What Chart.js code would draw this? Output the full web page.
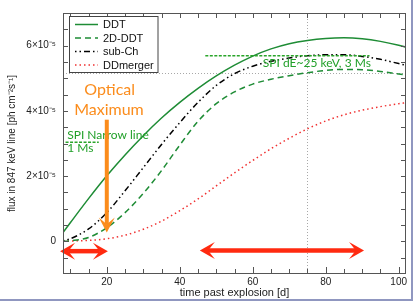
<!DOCTYPE html>
<html><head><meta charset="utf-8">
<script src="https://cdn.jsdelivr.net/npm/chart.js@4/dist/chart.umd.min.js"></script>
<style>
html,body{margin:0;padding:0;background:#fff;}
#wrap{position:relative;width:415px;height:303px;overflow:hidden;}
#frame{position:absolute;left:0;top:0;width:411px;height:299px;border-right:2px solid #9097c0;border-bottom:2px solid #9097c0;pointer-events:none;}
canvas{display:block;}
</style></head><body>
<div id="wrap"><canvas id="c" width="415" height="303"></canvas><div id="frame"></div></div>
<script>
// ---- data (flux in units of 1e-5 ph cm^-2 s^-1) ----
const days = [8,10,15,20,25,30,35,40,45,50,55,60,65,70,75,80,85,90,95,100,102];
const fluxDDT      = [0.27,0.57,1.31,2.01,2.65,3.24,3.78,4.26,4.69,5.07,5.4,5.68,5.9,6.06,6.16,6.22,6.24,6.21,6.13,6.01,5.95];
const flux2DDDT    = [0.0,0.02,0.12,0.42,0.88,1.47,2.17,2.95,3.68,4.22,4.58,4.82,4.97,5.08,5.17,5.24,5.27,5.26,5.21,5.13,5.1];
const fluxSubCh    = [0.02,0.08,0.38,0.88,1.55,2.26,2.97,3.64,4.26,4.78,5.14,5.37,5.52,5.62,5.69,5.72,5.72,5.67,5.58,5.45,5.4];
const fluxDDmerger = [0.0,0.01,0.03,0.08,0.19,0.37,0.62,0.94,1.3,1.7,2.1,2.48,2.84,3.16,3.45,3.69,3.88,4.02,4.13,4.22,4.25];
const seriesNames = ['DDT','2D-DDT','sub-Ch','DDmerger'];

const xRange = [8,102];
const yRange = [-1,7];
const xMajorTicks = [20,40,60,80,100];
const xTickLabels = ['20','40','60','80','100'];
const xMinorTicks = [10,15,20,25,30,35,40,45,50,55,60,65,70,75,80,85,90,95,100];
const yMajorTicks = [0,2,4,6];
const yTickLabels = ['0','2×10⁻⁵','4×10⁻⁵','6×10⁻⁵'];
const yMinorTicks = [-0.5,0,0.5,1,1.5,2,2.5,3,3.5,4,4.5,5,5.5,6,6.5];

// annotation values (data coordinates)
const refDay = 75, refFlux = 5.17;
const spiNarrow = [8.7, 17.8, 3.04];
const spiWide = [47, 92, 5.69];
const optArrow = [20, 3.73, 0.27];
const arrowLeft = [7.2, 20.3, -0.3];
const arrowRight = [45.5, 90.5, -0.28];

const GREEN = '#1e8c35', TEXTGREEN = '#22a02a', ORANGE = '#fb8c1c', RED = '#ff2a10';

function head(ctx, tx, ty, dx, dy, len, half){
  const nx = -dy, ny = dx;
  ctx.beginPath();
  ctx.moveTo(tx, ty);
  ctx.lineTo(tx - dx*len + nx*half, ty - dy*len + ny*half);
  ctx.lineTo(tx - dx*len*0.55, ty - dy*len*0.55);
  ctx.lineTo(tx - dx*len - nx*half, ty - dy*len - ny*half);
  ctx.closePath(); ctx.fill();
}

const annot = {
  id: 'annot',
  beforeDatasetsDraw(chart){
    const {ctx, chartArea:a, scales:{x,y}} = chart;
    ctx.save();
    ctx.strokeStyle = '#a8a8a8'; ctx.lineWidth = 1; ctx.setLineDash([1,2]);
    const py = Math.round(y.getPixelForValue(refFlux)) + 0.5;
    ctx.beginPath(); ctx.moveTo(a.left, py); ctx.lineTo(a.right, py); ctx.stroke();
    const px = Math.round(x.getPixelForValue(refDay)) + 0.5;
    ctx.beginPath(); ctx.moveTo(px, a.top); ctx.lineTo(px, a.bottom); ctx.stroke();
    ctx.restore();
  },
  afterDatasetsDraw(chart){
    const {ctx, chartArea:a, scales:{x,y}} = chart;
    ctx.save();
    ctx.strokeStyle = '#2aa52a'; ctx.lineWidth = 1.5; ctx.setLineDash([3,1.5]);
    for (const s of [spiNarrow, spiWide]) {
      const yy = y.getPixelForValue(s[2]);
      ctx.beginPath(); ctx.moveTo(x.getPixelForValue(s[0]), yy); ctx.lineTo(x.getPixelForValue(s[1]), yy); ctx.stroke();
    }
    ctx.setLineDash([]);
    ctx.fillStyle = TEXTGREEN; ctx.font = '12px Lato'; ctx.textBaseline = 'middle'; ctx.textAlign = 'left';
    ctx.fillText('SPI Narrow line', x.getPixelForValue(9.15), y.getPixelForValue(3.27));
    ctx.fillText('1 Ms', x.getPixelForValue(9.15), y.getPixelForValue(2.85));
    ctx.fillText('SPI dE~25 keV, 3 Ms', x.getPixelForValue(62.75), y.getPixelForValue(5.45));
    ctx.fillStyle = ORANGE; ctx.font = '16px Lato'; ctx.textAlign = 'center';
    ctx.fillText('Optical', x.getPixelForValue(20.8), y.getPixelForValue(4.64));
    ctx.fillText('Maximum', x.getPixelForValue(20.6), y.getPixelForValue(4.02));
    const ox = x.getPixelForValue(optArrow[0]);
    const oy1 = y.getPixelForValue(optArrow[1]), oy2 = y.getPixelForValue(optArrow[2]);
    ctx.strokeStyle = ORANGE; ctx.lineWidth = 4;
    ctx.beginPath(); ctx.moveTo(ox, oy1); ctx.lineTo(ox, oy2 - 8); ctx.stroke();
    head(ctx, ox, oy2, 0, 1, 15, 8);
    ctx.fillStyle = RED; ctx.strokeStyle = RED; ctx.lineWidth = 4.5;
    for (const r of [arrowLeft, arrowRight]) {
      const x1 = x.getPixelForValue(r[0]), x2 = x.getPixelForValue(r[1]), yy = y.getPixelForValue(r[2]);
      ctx.beginPath(); ctx.moveTo(x1 + 8, yy); ctx.lineTo(x2 - 8, yy); ctx.stroke();
      head(ctx, x1, yy, -1, 0, 15, 8.5);
      head(ctx, x2, yy, 1, 0, 15, 8.5);
    }
    ctx.restore();
  },
  afterDraw(chart){
    const {ctx, chartArea:a, scales:{x,y}} = chart;
    ctx.save();
    ctx.strokeStyle = '#555'; ctx.lineWidth = 1;
    ctx.strokeRect(Math.round(a.left)+0.5, Math.round(a.top)+0.5, Math.round(a.right-a.left)-1, Math.round(a.bottom-a.top)-1);
    ctx.beginPath();
    for (const v of xMinorTicks) {
      const px = Math.round(x.getPixelForValue(v)) + 0.5;
      const L = xMajorTicks.includes(v) ? 7 : 5;
      ctx.moveTo(px, a.bottom); ctx.lineTo(px, a.bottom - L);
      ctx.moveTo(px, a.top); ctx.lineTo(px, a.top + 5);
    }
    for (const v of yMinorTicks) {
      const py = Math.round(y.getPixelForValue(v)) + 0.5;
      ctx.moveTo(a.left, py); ctx.lineTo(a.left + 5, py);
      ctx.moveTo(a.right, py); ctx.lineTo(a.right - 5, py);
    }
    ctx.stroke();
    const bx = 69.5, by = 16.5, bw = 88.5, bh = 56;
    ctx.fillStyle = '#fff'; ctx.fillRect(bx, by, bw, bh);
    ctx.strokeStyle = '#444'; ctx.strokeRect(bx, by, bw, bh);
    ctx.font = '11px "Liberation Sans", Arial, sans-serif'; ctx.textBaseline = 'middle'; ctx.textAlign = 'left';
    chart.data.datasets.forEach((ds, i) => {
      const ly = 24.5 + i * 13.5;
      ctx.strokeStyle = ds.borderColor; ctx.lineWidth = ds.borderWidth; ctx.setLineDash(ds.borderDash || []);
      ctx.beginPath(); ctx.moveTo(75, ly); ctx.lineTo(98, ly); ctx.stroke();
      ctx.setLineDash([]);
      ctx.fillStyle = '#111'; ctx.fillText(ds.label, 103, ly + 0.5);
    });
    ctx.restore();
  }
};

const mk = (label, data, color, dash, w) => ({
  label, data: days.map((d, i) => ({x: d, y: data[i]})),
  borderColor: color, borderWidth: w, borderDash: dash, pointRadius: 0,
  fill: false, cubicInterpolationMode: 'monotone'
});

new Chart(document.getElementById('c'), {
  type: 'line',
  data: { datasets: [
    mk(seriesNames[0], fluxDDT, GREEN, [], 1.5),
    mk(seriesNames[1], flux2DDDT, GREEN, [6,4], 1.5),
    mk(seriesNames[2], fluxSubCh, '#000', [1.5,3,1.5,3,6,3], 1.5),
    mk(seriesNames[3], fluxDDmerger, '#f03030', [1.5,3], 1.5)
  ]},
  options: {
    responsive: false, animation: false, devicePixelRatio: 1,
    layout: { padding: {top: 9, right: 9, left: 0, bottom: 0} },
    plugins: { legend: {display: false}, tooltip: {enabled: false} },
    scales: {
      x: {
        type: 'linear', min: xRange[0], max: xRange[1],
        afterBuildTicks: s => { s.ticks = xMajorTicks.map(v => ({value: v})); },
        afterFit: s => { s.height = 29; },
        grid: {display: false, drawTicks: false}, border: {display: false},
        ticks: { autoSkip: false, maxRotation: 0, padding: 2, color: '#222',
          font: {family: '"Liberation Sans", Arial, sans-serif', size: 10},
          callback: v => { const i = xMajorTicks.indexOf(v); return i >= 0 ? xTickLabels[i] : ''; } },
        title: { display: true, text: 'time past explosion [d]', color: '#222',
          font: {family: '"Liberation Sans", Arial, sans-serif', size: 11}, padding: {top: 0, bottom: 3} }
      },
      y: {
        type: 'linear', min: yRange[0], max: yRange[1],
        afterBuildTicks: s => { s.ticks = yMajorTicks.map(v => ({value: v})); },
        afterFit: s => { s.width = 63; },
        grid: {display: false, drawTicks: false}, border: {display: false},
        ticks: { autoSkip: false, padding: 7, color: '#222',
          font: {family: '"Liberation Sans", Arial, sans-serif', size: 10},
          callback: v => { const i = yMajorTicks.indexOf(v); return i >= 0 ? yTickLabels[i] : ''; } },
        title: { display: true, text: 'flux in 847 keV line [ph cm⁻²s⁻¹]', color: '#222',
          font: {family: '"Liberation Sans", Arial, sans-serif', size: 10}, padding: {top: 6, bottom: 0} }
      }
    }
  },
  plugins: [annot]
});
</script>
</body></html>
